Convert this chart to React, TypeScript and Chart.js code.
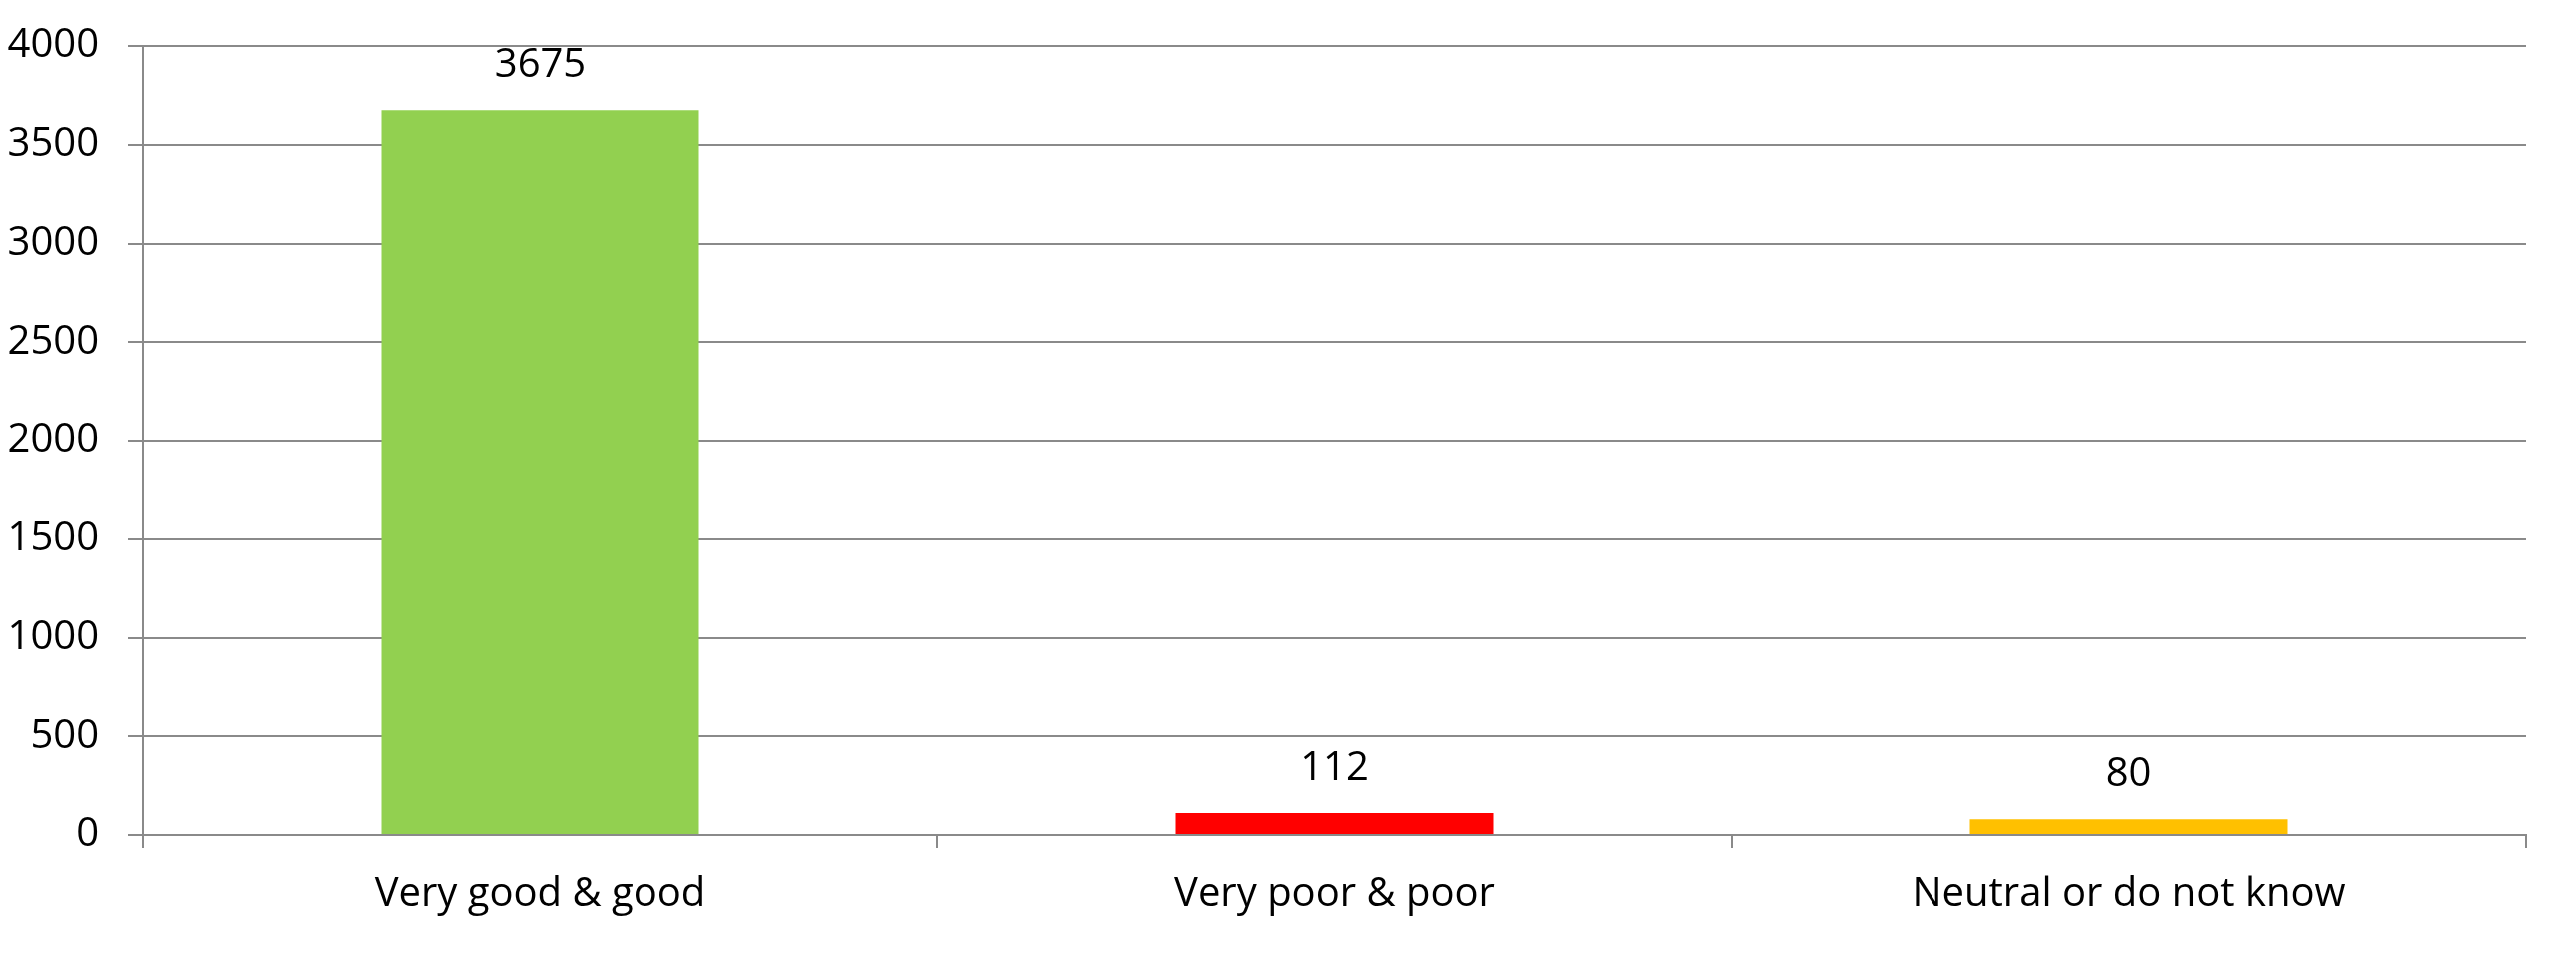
import React, { useEffect, useRef } from "react";
import { Chart, registerables } from "chart.js";

Chart.register(...registerables);

const categories = ["Very good & good", "Very poor & poor", "Neutral or do not know"];
const values = [3675, 112, 80];
const barColors = ["#92D050", "#FF0000", "#FFC000"];
const yTicks = [0, 500, 1000, 1500, 2000, 2500, 3000, 3500, 4000];

const FONT = "'Open Sans', sans-serif";
const GRID = "#8a8a8a";

const valueLabels = {
  id: "valueLabels",
  afterDatasetsDraw(chart: any) {
    const ctx = chart.ctx;
    const meta = chart.getDatasetMeta(0);
    ctx.save();
    ctx.font = `40px ${FONT}`;
    ctx.fillStyle = "#000";
    ctx.textAlign = "center";
    ctx.textBaseline = "alphabetic";
    meta.data.forEach((el: any, i: number) => {
      ctx.fillText(String(values[i]), el.x, el.y - 33);
    });
    ctx.restore();
  },
};

export default function App() {
  const ref = useRef<HTMLCanvasElement>(null);
  useEffect(() => {
    document.body.style.margin = "0";
    const chart = new Chart(ref.current!, {
      type: "bar",
      data: {
        labels: categories,
        datasets: [
          {
            data: values,
            backgroundColor: barColors,
            borderWidth: 0,
            categoryPercentage: 0.4,
            barPercentage: 1,
          },
        ],
      },
      plugins: [valueLabels],
      options: {
        responsive: false,
        animation: false,
        layout: { padding: { top: 46, right: 50, left: 0, bottom: 0 } },
        plugins: { legend: { display: false }, tooltip: { enabled: false } },
        scales: {
          x: {
            grid: {
              display: true,
              drawOnChartArea: false,
              drawTicks: true,
              tickLength: 13,
              offset: true,
              color: GRID,
              lineWidth: 2,
            },
            border: { display: true, color: GRID, width: 2 },
            ticks: { color: "#000", font: { family: FONT, size: 40 }, padding: 23, maxRotation: 0 },
            afterFit(scale: any) {
              scale.height = 119;
            },
          },
          y: {
            min: 0,
            max: 4000,
            afterBuildTicks(scale: any) {
              scale.ticks = yTicks.map((v) => ({ value: v }));
            },
            grid: { color: GRID, lineWidth: 2, tickLength: 15, drawTicks: true },
            border: { display: true, color: GRID, width: 2 },
            ticks: {
              color: "#000",
              font: { family: FONT, size: 40, lineHeight: 0.8 },
              padding: 29,
              callback: (v: any) => String(v),
            },
            afterFit(scale: any) {
              scale.width = 143;
            },
          },
        },
      },
    });
    return () => chart.destroy();
  }, []);
  return <canvas ref={ref} width={2578} height={955} style={{ display: "block" }} />;
}
